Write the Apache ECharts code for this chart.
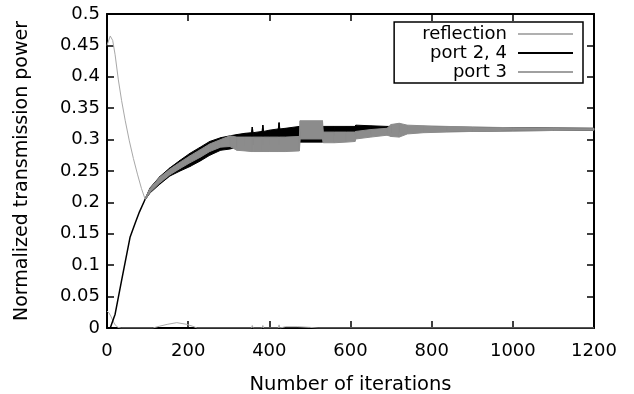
<!DOCTYPE html>
<html><head><meta charset="utf-8">
<script src="https://cdn.jsdelivr.net/npm/echarts@6/dist/echarts.min.js"></script>
<style>html,body{margin:0;padding:0;background:#fff}#c{width:634px;height:394px}</style>
</head><body><div id="c"></div>
<script>
// ---- axis ticks ----
const xTickValues = [0, 200, 400, 600, 800, 1000, 1200];
const yTickValues = [0, 0.05, 0.1, 0.15, 0.2, 0.25, 0.3, 0.35, 0.4, 0.45, 0.5];
const legendNames = ['reflection', 'port 2, 4', 'port 3'];

// ---- reflection ----
const reflIter = [0, 5, 10, 15, 20, 27, 35, 113, 130, 150, 172, 195, 210, 222, 356, 358, 360, 382, 384, 386, 422, 424, 426, 440, 470, 500, 520, 1200];
const reflVal  = [0.027, 0.024, 0.018, 0.011, 0.005, 0.001, 0, 0, 0.003, 0.006, 0.0085, 0.006, 0.003, 0, 0, 0.004, 0, 0, 0.004, 0, 0, 0.005, 0, 0.002, 0.002, 0.001, 0, 0];

// ---- port 2, 4 : early single line ----
const p24Iter = [0, 8, 12, 20, 36, 57, 70, 80, 94];
const p24Val  = [0, 0, 0.003, 0.022, 0.076, 0.145, 0.168, 0.185, 0.205];

// ---- port 3 : early single line ----
const p3Iter = [0, 8, 14, 20, 28, 36, 45, 55, 65, 75, 85, 94];
const p3Val  = [0.45, 0.465, 0.458, 0.435, 0.395, 0.362, 0.33, 0.298, 0.27, 0.245, 0.222, 0.205];

// ---- oscillation envelopes (iteration >= 94) ----
const bandIter = [94, 106, 130, 155, 180, 204, 230, 253, 280, 303, 320, 340, 356, 358, 360, 382, 384, 386, 400, 422, 424, 426, 440, 474, 476, 531, 533, 560, 590, 611, 613, 650, 690, 700, 720, 740, 780, 837, 900, 1000, 1100, 1200];
const p3Lo  = [0.204, 0.216, 0.231, 0.244, 0.254, 0.263, 0.272, 0.281, 0.288, 0.289, 0.283, 0.282, 0.281, 0.281, 0.281, 0.281, 0.281, 0.281, 0.281, 0.281, 0.281, 0.281, 0.281, 0.282, 0.301, 0.301, 0.295, 0.295, 0.296, 0.297, 0.301, 0.304, 0.307, 0.305, 0.304, 0.309, 0.311, 0.312, 0.313, 0.314, 0.3145, 0.315];
const p3Hi  = [0.206, 0.222, 0.240, 0.253, 0.264, 0.274, 0.284, 0.293, 0.300, 0.306, 0.304, 0.304, 0.304, 0.304, 0.304, 0.304, 0.304, 0.304, 0.304, 0.304, 0.304, 0.304, 0.304, 0.305, 0.330, 0.330, 0.312, 0.312, 0.312, 0.312, 0.313, 0.316, 0.318, 0.324, 0.326, 0.323, 0.322, 0.321, 0.320, 0.319, 0.3185, 0.318];
const p24Lo = [0.204, 0.215, 0.229, 0.242, 0.250, 0.257, 0.266, 0.275, 0.283, 0.285, 0.288, 0.290, 0.292, 0.292, 0.292, 0.292, 0.292, 0.292, 0.292, 0.292, 0.292, 0.292, 0.292, 0.295, 0.296, 0.296, 0.305, 0.307, 0.308, 0.308, 0.307, 0.309, 0.311, 0.311, 0.312, 0.312, 0.313, 0.313, 0.3135, 0.314, 0.3145, 0.315];
const p24Hi = [0.206, 0.223, 0.241, 0.255, 0.267, 0.278, 0.288, 0.297, 0.303, 0.306, 0.308, 0.310, 0.311, 0.320, 0.311, 0.313, 0.323, 0.313, 0.315, 0.317, 0.327, 0.317, 0.318, 0.321, 0.312, 0.312, 0.321, 0.321, 0.321, 0.321, 0.323, 0.322, 0.321, 0.321, 0.323, 0.321, 0.321, 0.320, 0.3195, 0.319, 0.3185, 0.318];

const FONT = 'DejaVu Sans';
const pairs = (xs, ys) => xs.map((x, i) => [x, ys[i]]);

function bandSeries(name, iters, lo, hi, color) {
  const segs = [];
  for (let i = 0; i < iters.length - 1; i++) {
    segs.push([iters[i], lo[i], hi[i], iters[i + 1], lo[i + 1], hi[i + 1]]);
  }
  return {
    name: name, type: 'custom', silent: true,
    data: segs,
    encode: { x: [0, 3], y: [1, 2, 4, 5] },
    renderItem: function (params, api) {
      const a = api.coord([api.value(0), api.value(1)]);
      const b = api.coord([api.value(0), api.value(2)]);
      const c = api.coord([api.value(3), api.value(5)]);
      const d = api.coord([api.value(3), api.value(4)]);
      return { type: 'polygon', shape: { points: [a, b, c, d] },
               style: { fill: color, stroke: color, lineWidth: 1 } };
    }
  };
}

const axisCommon = {
  type: 'value',
  axisLine: { onZero: false, lineStyle: { color: '#000', width: 2 } },
  axisTick: { inside: true, length: 7, lineStyle: { color: '#000', width: 1.5 } },
  splitLine: { show: false }
};

const chart = echarts.init(document.getElementById('c'));
chart.setOption({
  animation: false,
  backgroundColor: '#fff',
  textStyle: { fontFamily: FONT },
  grid: { left: 107, right: 40, top: 14, bottom: 66, containLabel: false, outerBoundsMode: 'none' },
  xAxis: [
    Object.assign({}, axisCommon, {
      position: 'bottom',
      min: xTickValues[0], max: xTickValues[xTickValues.length - 1],
      interval: xTickValues[1] - xTickValues[0],
      axisLabel: { color: '#000', fontSize: 18, fontFamily: FONT, margin: 14,
                   formatter: function (v) { return String(v); } },
      name: 'Number of iterations', nameLocation: 'middle', nameGap: 47,
      nameTextStyle: { color: '#000', fontSize: 19.5, fontFamily: FONT }
    }),
    Object.assign({}, axisCommon, {
      position: 'top',
      min: xTickValues[0], max: xTickValues[xTickValues.length - 1],
      interval: xTickValues[1] - xTickValues[0],
      axisLabel: { show: false }
    })
  ],
  yAxis: [
    Object.assign({}, axisCommon, {
      position: 'left',
      min: yTickValues[0], max: yTickValues[yTickValues.length - 1],
      interval: yTickValues[1] - yTickValues[0],
      axisLabel: { color: '#000', fontSize: 18, fontFamily: FONT, margin: 7,
                   formatter: function (v) { return String(+v.toFixed(2)); } },
      name: 'Normalized transmission power', nameLocation: 'middle', nameGap: 75,
      nameTextStyle: { color: '#000', fontSize: 19, fontFamily: FONT }
    }),
    Object.assign({}, axisCommon, {
      position: 'right',
      min: yTickValues[0], max: yTickValues[yTickValues.length - 1],
      interval: yTickValues[1] - yTickValues[0],
      axisLabel: { show: false }
    })
  ],
  legend: {
    data: legendNames.map(function (n) { return { name: n, icon: 'rect' }; }),
    orient: 'vertical', right: 51, top: 22, align: 'right',
    itemWidth: 55, itemHeight: 2, itemGap: 1,
    padding: [3, 10, 2, 28],
    backgroundColor: '#fff', borderColor: '#000', borderWidth: 1.5, borderRadius: 0,
    selectedMode: false,
    textStyle: { color: '#000', fontSize: 18, fontFamily: FONT, padding: [0, 6, 0, 0] }
  },
  series: [
    { name: legendNames[0], type: 'line', symbol: 'none', data: pairs(reflIter, reflVal),
      lineStyle: { color: '#aaaaaa', width: 1 }, itemStyle: { color: '#b0b0b0' } },
    { name: legendNames[1], type: 'line', symbol: 'none', data: pairs(p24Iter, p24Val),
      lineStyle: { color: '#000', width: 1.5 }, itemStyle: { color: '#000' } },
    bandSeries(legendNames[1], bandIter, p24Lo, p24Hi, '#000000'),
    { name: legendNames[2], type: 'line', symbol: 'none', data: pairs(p3Iter, p3Val),
      lineStyle: { color: '#a8a8a8', width: 1 }, itemStyle: { color: '#a0a0a0' } },
    bandSeries(legendNames[2], bandIter, p3Lo, p3Hi, '#8c8c8c')
  ]
});
</script></body></html>
